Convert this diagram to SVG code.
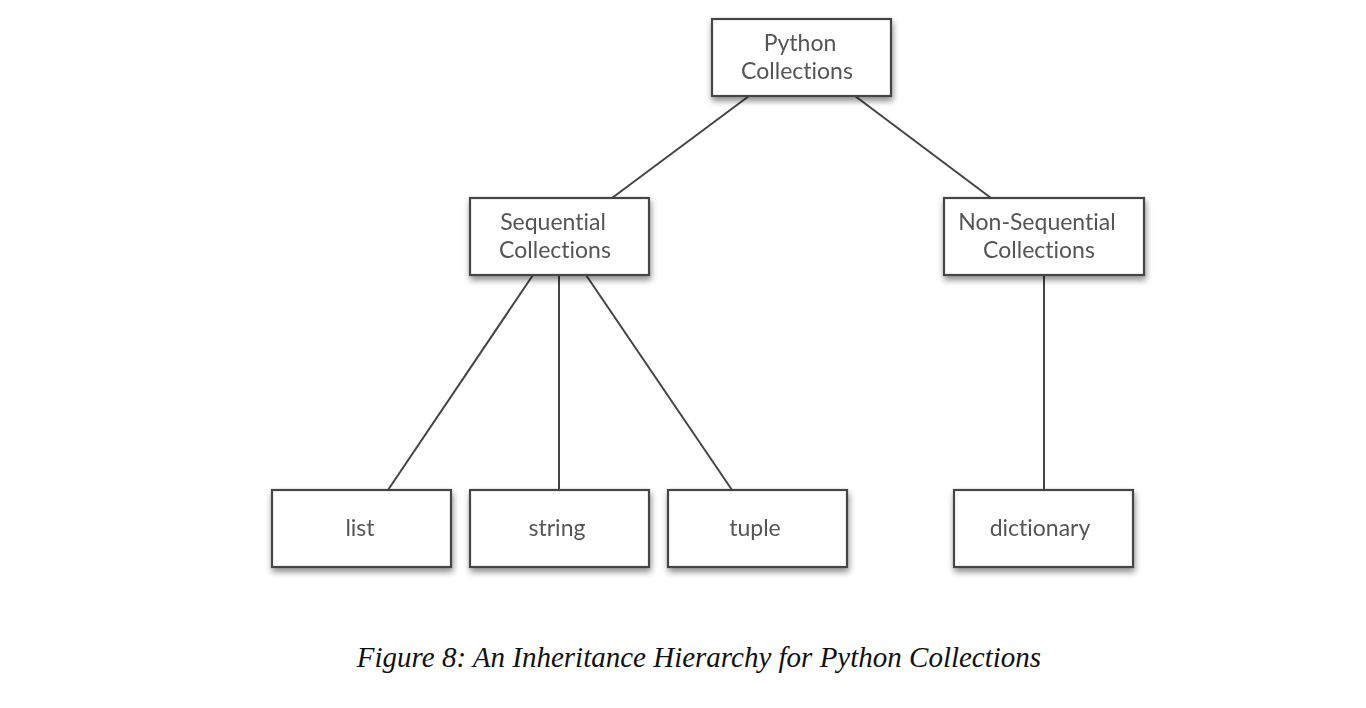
<svg xmlns="http://www.w3.org/2000/svg" width="1366" height="708" viewBox="0 0 1366 708">
<defs>
<filter id="sh" x="-10%" y="-10%" width="120%" height="140%">
<feGaussianBlur in="SourceAlpha" stdDeviation="3"/>
<feOffset dx="1" dy="4" result="b"/>
<feComponentTransfer><feFuncA type="linear" slope="0.45"/></feComponentTransfer>
<feMerge><feMergeNode/><feMergeNode in="SourceGraphic"/></feMerge>
</filter>
</defs>
<style>
.box{fill:#fff;stroke:#444;stroke-width:2.2}
.lbl{font-family:"Lato","Open Sans",sans-serif;font-size:23px;fill:#555;text-anchor:middle;font-variant-ligatures:none}
.edge{stroke:#444;stroke-width:2;fill:none}
.cap{font-family:"Liberation Serif",serif;font-style:italic;font-size:29px;fill:#111;text-anchor:middle}
</style>
<rect width="1366" height="708" fill="#fff"/>
<g id="connectors">
<line class="edge" x1="749" y1="96" x2="612" y2="198"/>
<line class="edge" x1="855" y1="96" x2="991" y2="198"/>
<line class="edge" x1="533" y1="275" x2="388" y2="490"/>
<line class="edge" x1="559" y1="275" x2="559" y2="490"/>
<line class="edge" x1="586" y1="275" x2="732" y2="490"/>
<line class="edge" x1="1044" y1="275" x2="1044" y2="490"/>
</g>
<g id="python-collections" filter="url(#sh)">
<rect class="box" x="712" y="19" width="179" height="77"/>
<text class="lbl" x="800" y="51">Python</text>
<text class="lbl" x="797" y="79">Collections</text>
</g>
<g id="sequential-collections" filter="url(#sh)">
<rect class="box" x="470" y="198" width="179" height="77"/>
<text class="lbl" x="553" y="230">Sequential</text>
<text class="lbl" x="555" y="258">Collections</text>
</g>
<g id="non-sequential-collections" filter="url(#sh)">
<rect class="box" x="944" y="198" width="200" height="77"/>
<text class="lbl" x="1037" y="230">Non-Sequential</text>
<text class="lbl" x="1039" y="258">Collections</text>
</g>
<g id="list" filter="url(#sh)">
<rect class="box" x="272" y="490" width="179" height="77"/>
<text class="lbl" x="360" y="536">list</text>
</g>
<g id="string" filter="url(#sh)">
<rect class="box" x="470" y="490" width="179" height="77"/>
<text class="lbl" x="557" y="536">string</text>
</g>
<g id="tuple" filter="url(#sh)">
<rect class="box" x="668" y="490" width="179" height="77"/>
<text class="lbl" x="755" y="536">tuple</text>
</g>
<g id="dictionary" filter="url(#sh)">
<rect class="box" x="954" y="490" width="179" height="77"/>
<text class="lbl" x="1040" y="536">dictionary</text>
</g>
<text class="cap" x="699" y="667">Figure 8: An Inheritance Hierarchy for Python Collections</text>
</svg>
